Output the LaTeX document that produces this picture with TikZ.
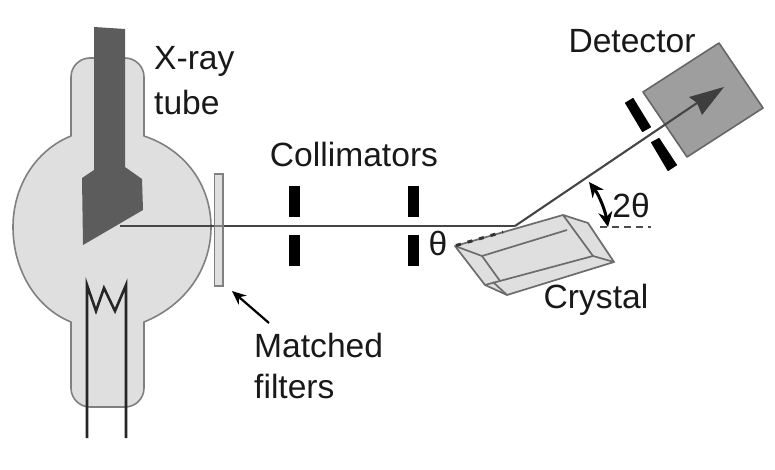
\documentclass[tikz,border=0pt]{standalone}
\usepackage{fontspec}
\setmainfont{Liberation Sans}
\usetikzlibrary{arrows.meta,calc}
\definecolor{glass}{gray}{0.875}
\definecolor{glassline}{gray}{0.5}
\definecolor{anode}{gray}{0.36}
\definecolor{detfill}{gray}{0.62}
\definecolor{beam}{gray}{0.27}
\tikzset{
  lab/.style={inner sep=0pt,font=\fontsize{33.6}{33.6}\selectfont,text=black!90},
  labl/.style={lab,anchor=west},
  glassbody/.style={fill=glass,draw=glassline,line width=1.6pt,line join=round},
  slit/.style={fill=black,draw=black,line width=1pt,line join=round},
  crystalline/.style={draw=glassline!85!black,line width=1.7pt,line join=round},
  wire/.style={draw=black!85,line width=2.6pt,line join=miter},
  ray/.style={draw=beam,line width=2.1pt}
}
\begin{document}
\begin{tikzpicture}[x=1pt,y=-1pt]
\useasboundingbox (0,0) rectangle (775,470);
% tube glass
\path[glassbody]
  (71,136) -- (71,77) .. controls (71,66) and (80,58) .. (90,58) -- (125,58)
  .. controls (135,58) and (144,66) .. (144,77) -- (144,136)
  .. controls (186,150) and (211,186) .. (211,227)
  .. controls (211,268) and (186,305) .. (144,322)
  -- (144,388) .. controls (144,399) and (135,407) .. (125,407) -- (90,407)
  .. controls (80,407) and (71,399) .. (71,388) -- (71,322)
  .. controls (36,308) and (13,270) .. (13,227)
  .. controls (13,186) and (36,150) .. (71,136) -- cycle;
% anode
\path[fill=anode] (94,27) -- (125,29) -- (125,167) -- (142,179) -- (143,210) -- (83,245) -- (82,178) -- (94,170) -- cycle;
% filament
\coordinate (w1a) at (87,285); \coordinate (w1b) at (87,438);
\coordinate (w2a) at (126,285); \coordinate (w2b) at (126,438);
\draw[wire] (w1b) -- (w1a) -- (96,311) -- (104,288) -- (115,311) -- (w2a) -- (w2b);
% beam inside
\coordinate (src) at (120,226);
\coordinate (hit) at (515,226);
\draw[ray] (src) -- (hit);
% filter
\path[fill=glass,draw=glassline,line width=1.6pt] (214.5,174) rectangle (223,286);
\draw[ray,draw=beam!70] (214.5,226) -- (223,226);
% collimators
\path[fill=black] (289,186) rectangle (300,217);
\path[fill=black] (289,235) rectangle (300,266);
\path[fill=black] (408,186) rectangle (419,217);
\path[fill=black] (408,235) rectangle (419,266);
% crystal
\path[fill=glass] (455,246) -- (563,215) -- (588,223) -- (614,262) -- (507,295) -- (485,285) -- cycle;
\draw[crystalline] (455,246) -- (563,215) -- (588,223) -- (614,262) -- (507,295) -- (485,285) -- cycle;
\draw[crystalline] (455,246) -- (482,256) -- (567,230);
\draw[crystalline] (563,215) -- (593,256) -- (614,262);
\draw[crystalline] (482,256) -- (500,281);
\draw[crystalline] (485,285) -- (593,256);
\draw[crystalline] (493,282) -- (507,295);
\draw[draw=black!80,line width=3pt,dash pattern=on 5pt off 7pt] (456,245.5) -- (503,232);
% detector
\path[fill=detfill,draw=glassline!80!black,line width=1.6pt,line join=round] (719,43) -- (763,108) -- (687,157) -- (643,92) -- cycle;
\path[slit] (625.5,103) -- (633,98.5) -- (650.5,127) -- (642.5,131.5) -- cycle;
\path[slit] (651.5,142.5) -- (659,138.5) -- (676.5,165) -- (668,170.5) -- cycle;
% reflected beam
\coordinate (tip) at (724,87);
\draw[ray] (hit) -- (697,103);
\path[fill=beam!90!black] (tip) -- (689,97) -- (697,103) -- (702,115) -- cycle;
% 2theta
\coordinate (a1) at (589,182);
\coordinate (a2) at (608,227);
\draw[{Stealth[length=15pt,width=14pt]}-{Stealth[length=15pt,width=14pt]},black,line width=3pt] (a1) .. controls (599,195) and (605,210) .. (a2);
\draw[draw=black!70,line width=1.7pt,dash pattern=on 7pt off 5pt] (600,227) -- (651,227);
% labels
\node[labl] (xray) at (154,61) {X-ray};
\node[labl] (tube) at (154,102) {tube};
\node[lab] (coll) at (354,154) {Collimators};
\node[lab] (det) at (632,41) {Detector};
\node[lab] (tt) at (631,205) {2θ};
\node[lab] (th) at (438,243) {θ};
\node[lab] (cry) at (596,300) {Crystal};
\node[labl] (matched) at (254,345) {Matched};
\node[labl] (filters) at (254,386) {filters};
% filter arrow
\coordinate (ft) at (232,291);
\coordinate (fs) at (269,323);
\draw[-{Stealth[length=14pt,width=12pt]},black,line width=2.2pt] (fs) -- (ft);
\end{tikzpicture}
\end{document}
